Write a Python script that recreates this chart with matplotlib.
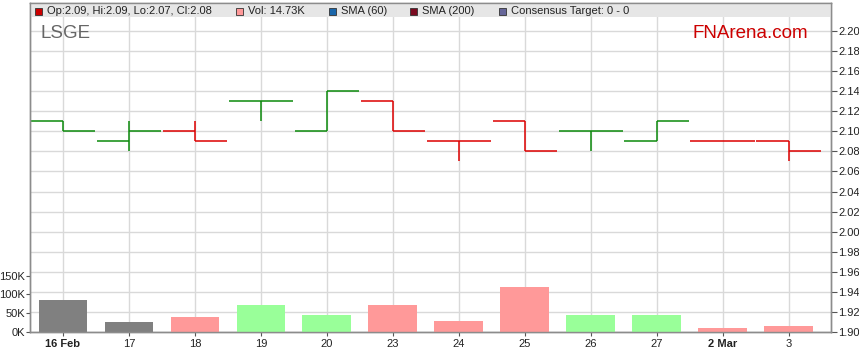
import matplotlib
matplotlib.use("Agg")
import matplotlib.pyplot as plt
from matplotlib.patches import Rectangle

plt.rcParams["font.family"] = ["Liberation Sans", "DejaVu Sans"]
plt.rcParams["font.size"] = 8

# data
days = ["16 Feb", "17", "18", "19", "20", "23", "24", "25", "26", "27", "2 Mar", "3"]
bold_days = ["16 Feb", "2 Mar"]
opens = [2.11, 2.09, 2.10, 2.13, 2.10, 2.13, 2.09, 2.11, 2.10, 2.09, 2.09, 2.09]
highs = [2.11, 2.11, 2.11, 2.13, 2.14, 2.13, 2.09, 2.11, 2.10, 2.11, 2.09, 2.09]
lows = [2.10, 2.08, 2.09, 2.11, 2.10, 2.10, 2.07, 2.08, 2.08, 2.09, 2.09, 2.07]
closes = [2.10, 2.10, 2.09, 2.13, 2.14, 2.10, 2.09, 2.08, 2.10, 2.11, 2.09, 2.08]
up = [True, True, False, True, True, False, False, False, True, True, False, False]
volumes = [86000, 27000, 41000, 71000, 46000, 71000, 30000, 119000, 46000, 44000, 11000, 14730]
vol_kind = ["flat", "flat", "down", "up", "up", "down", "down", "down", "up", "up", "down", "down"]

price_ticks = [1.90 + 0.02 * i for i in range(16)]
vol_ticks = [0, 50000, 100000, 150000]

GREEN = "#0c8a0c"
RED = "#dd0000"
VOL_COL = {"flat": "#808080", "up": "#99ff99", "down": "#ff9999"}
GRID = "#d9d9d9"
SPINE = "#8c8c8c"

W, H = 859, 363
fig = plt.figure(figsize=(W / 100, H / 100), dpi=100)
ax = fig.add_axes([30 / W, (H - 332) / H, 801 / W, 329 / H])
x = list(range(len(days)))

ax.set_xlim(-0.5, 11.64)
ax.set_ylim(1.90, 2.20 + 28 / 1004)

# grid
for xi in x:
    ax.axvline(xi, color=GRID, lw=1, zorder=0)
for p in price_ticks:
    ax.axhline(p, color=GRID, lw=1, zorder=0)

# OHLC bars
cols = [GREEN if u else RED for u in up]
ax.vlines(x, lows, highs, colors=cols, lw=1.1, zorder=3)
ax.hlines(opens, [xi - 0.49 for xi in x], x, colors=cols, lw=1.1, zorder=3)
ax.hlines(closes, x, [xi + 0.49 for xi in x], colors=cols, lw=1.1, zorder=3)

ax.set_xticks(x)
ax.set_xticklabels(days)
for lbl in ax.get_xticklabels():
    if lbl.get_text() in bold_days:
        lbl.set_fontweight("bold")
ax.tick_params(axis="x", length=3, width=0.8, color="#555555", pad=2,
               labelsize=8, labelcolor="#222222")

# volume on a second axis
axv = ax.twinx()
axv.set_ylim(0, 329 / 18.8 * 50000)
axv.bar(x, volumes, width=0.74, color=[VOL_COL[k] for k in vol_kind], zorder=2)
axv.yaxis.tick_left()
axv.set_yticks(vol_ticks)
axv.set_yticklabels([f"{v // 1000}K" for v in vol_ticks])
axv.tick_params(axis="y", length=3, width=0.8, color="#555555", pad=0.5,
                labelsize=8, labelcolor="#222222")

# price axis on the right (after twinx, which moves it)
ax.yaxis.tick_right()
ax.set_yticks(price_ticks)
ax.set_yticklabels([f"{p:.2f}" for p in price_ticks])
ax.tick_params(axis="y", length=4, width=0.8, color="#555555", pad=1,
               labelsize=8, labelcolor="#222222")

for a in (ax, axv):
    for s in a.spines.values():
        s.set_color(SPINE)
        s.set_linewidth(1)
        s.set_zorder(20)

# legend band
axv.add_patch(Rectangle((0, 1 - 14 / 329), 1, 14 / 329, transform=ax.transAxes,
                        facecolor="#e6e6e6", edgecolor="none", zorder=5))
legend = [
    ("#cc0000", "Op:2.09, Hi:2.09, Lo:2.07, Cl:2.08", 35),
    ("#ff9999", "Vol: 14.73K", 236),
    ("#1a66aa", "SMA (60)", 329),
    ("#7a0a20", "SMA (200)", 410),
    ("#666699", "Consensus Target: 0 - 0", 499),
]
for c, t, px in legend:
    fig.patches.append(Rectangle((px / W, (H - 14.5) / H), 7 / W, 7 / H,
                                 transform=fig.transFigure, facecolor=c,
                                 edgecolor="#333333", lw=0.6, zorder=10))
    fig.text((px + 12) / W, (H - 10.5) / H, t, fontsize=8, color="#222222",
             va="center", ha="left", zorder=10)

fig.text(41 / W, (H - 33) / H, "LSGE", fontsize=13.5, color="#666666",
         va="center", ha="left")
fig.text(808 / W, (H - 33) / H, "FNArena.com", fontsize=13.5, color="#cc0000",
         va="center", ha="right")

fig.savefig("out.png", dpi=100)
